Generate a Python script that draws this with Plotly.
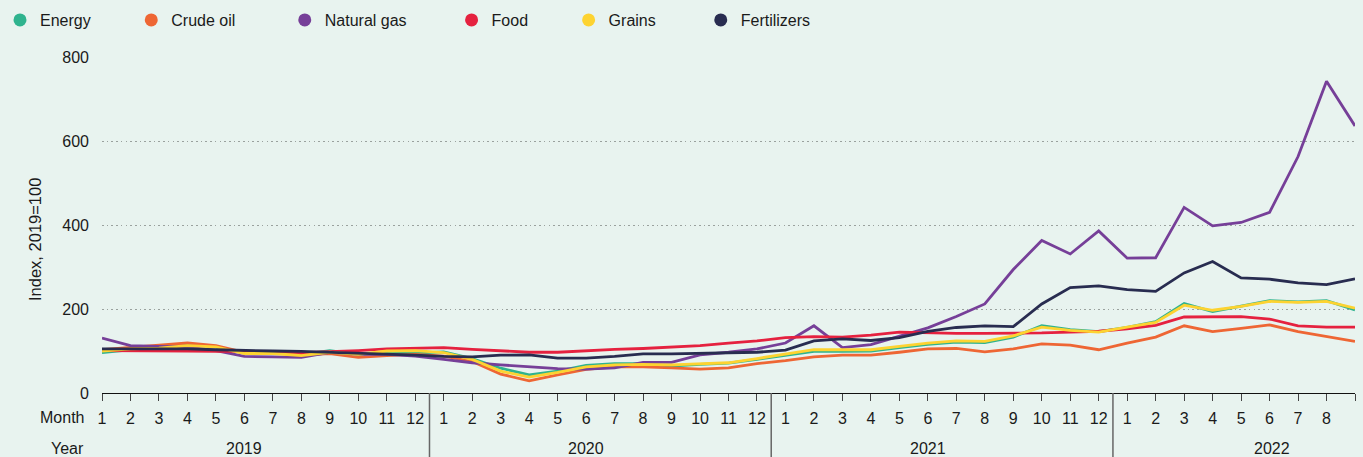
import plotly.graph_objects as go

# Months: Jan 2019 .. Sep 2022 (index 0..44)
month_labels = [str(m) for m in range(1, 13)] * 3 + [str(m) for m in range(1, 9)] + [""]
years = ["2019", "2020", "2021", "2022"]
year_label_pos = [5, 17, 29, 41.1]
year_dividers = [11.5, 23.5, 35.5]

energy = [96, 103, 110, 115, 110, 95, 96, 92, 101, 92, 97, 95,
          98, 82, 59, 43, 52, 66, 70, 70, 64, 68, 71, 80,
          90, 99, 99, 100, 108, 116, 121, 120, 133, 160, 151, 146,
          156, 170, 213, 194, 207, 220, 217, 220, 198]
crude_oil = [103, 108, 113, 119, 113, 97, 96, 90, 94, 85, 89, 92,
             88, 75, 45, 29, 43, 56, 62, 62, 60, 57, 60, 70,
             77, 86, 90, 90, 97, 105, 106, 98, 105, 117, 114, 103,
             119, 133, 160, 146, 154, 162, 146, 134, 123]
natural_gas = [131, 113, 111, 110, 101, 87, 86, 85, 97, 92, 92, 88,
               80, 72, 67, 62, 58, 57, 60, 73, 73, 91, 97, 105,
               119, 160, 108, 115, 135, 155, 182, 212, 294, 363, 331, 386,
               321, 322, 442, 398, 406, 430, 563, 742, 636]
food = [101, 101, 101, 100, 99, 99, 99, 96, 98, 101, 105, 107,
        108, 104, 100, 97, 97, 101, 104, 106, 109, 113, 119, 124,
        132, 134, 133, 138, 145, 143, 142, 142, 142, 143, 145, 147,
        153, 161, 181, 182, 182, 176, 160, 157, 157]
grains = [100, 105, 107, 113, 110, 94, 94, 89, 97, 92, 100, 101,
          96, 80, 52, 38, 49, 62, 67, 68, 67, 69, 72, 82,
          92, 103, 103, 103, 111, 119, 124, 123, 136, 157, 149, 145,
          157, 168, 209, 197, 206, 218, 216, 218, 202]
fertilizers = [105, 105, 105, 105, 103, 101, 100, 99, 97, 94, 92, 90,
               87, 86, 90, 91, 83, 83, 87, 93, 93, 94, 95, 97,
               102, 124, 129, 125, 132, 147, 156, 160, 158, 212, 251, 255,
               246, 242, 286, 313, 274, 271, 262, 258, 272]

series = [
    ("Energy", energy, "#2fb38e", 8),
    ("Crude oil", crude_oil, "#ee6634", 10),
    ("Natural gas", natural_gas, "#763f98", 9),
    ("Food", food, "#e5213f", 8),
    ("Grains", grains, "#fdd331", 9),
    ("Fertilizers", fertilizers, "#282c50", 0),
]

x_idx = list(range(len(energy)))
FONT = "Liberation Sans, Arial, sans-serif"

fig = go.Figure()
for name, vals, col, _ in series:
    fig.add_trace(go.Scatter(x=x_idx, y=vals, mode="lines", name=name,
                             line=dict(color=col, width=2.8), showlegend=False,
                             hoverinfo="skip"))
for name, vals, col, pad in series:
    fig.add_trace(go.Scatter(x=[None], y=[None], mode="markers", name=name + "\u00a0" * pad,
                             marker=dict(color=col, size=13, symbol="circle"),
                             showlegend=True))

bg = "#e8f3ef"
W, H = 1363, 457
L, R, T, B = 102, 8, 57, 64
ph = H - T - B

def py(pix):
    return (H - B - pix) / ph

def px(pix):
    return (pix - L) / (W - L - R)

annotations = [
    dict(text="Month", x=px(86), y=py(417), xref="paper", yref="paper",
         xanchor="right", yanchor="middle", showarrow=False),
    dict(text="Year", x=px(86), y=py(448), xref="paper", yref="paper",
         xanchor="right", yanchor="middle", showarrow=False),
    dict(text="Index, 2019=100", x=px(35), y=py(240), xref="paper", yref="paper",
         xanchor="center", yanchor="middle", textangle=-90, showarrow=False,
         font=dict(size=16.5)),
]
for yl, pos in zip(years, year_label_pos):
    annotations.append(dict(text=yl, x=pos, y=py(448), xref="x", yref="paper",
                            xanchor="center", yanchor="middle", showarrow=False))

shapes = [dict(type="line", xref="x", yref="paper", x0=d, x1=d, y0=0, y1=py(H),
               line=dict(color="#666666", width=1.5)) for d in year_dividers]

fig.update_layout(
    width=W, height=H,
    margin=dict(l=L, r=R, t=T, b=B),
    paper_bgcolor=bg, plot_bgcolor=bg,
    font=dict(family=FONT, size=16, color="#1a1a1a"),
    showlegend=True,
    legend=dict(orientation="h", xref="container", yref="container",
                x=-0.003, y=1 - 20 / H, xanchor="left", yanchor="middle",
                font=dict(size=16, color="#1a1a1a"), bgcolor="rgba(0,0,0,0)",
                itemclick=False),
    xaxis=dict(range=[0, 44], tickmode="array", tickvals=x_idx, ticktext=month_labels,
               ticks="outside", ticklen=7, tickcolor="#444444", tickwidth=1.3,
               showline=True, linecolor="#111111", linewidth=1.3,
               showgrid=False, zeroline=False, tickangle=0, ticklabelstandoff=4,
               tickfont=dict(size=16, color="#1a1a1a")),
    yaxis=dict(range=[0, 800], tickvals=[0, 200, 400, 600, 800],
               showgrid=True, gridcolor="#9aa19e", griddash="1.6px,3.1px", gridwidth=1.3,
               zeroline=False, showline=False, ticks="", ticklabelstandoff=12,
               tickfont=dict(size=16, color="#1a1a1a")),
    annotations=annotations,
    shapes=shapes,
)

fig.write_html(
    "out.html",
    config={"displayModeBar": False},
    post_script=("document.body.style.margin='0';"
                 "document.body.style.background='%s';"
                 "document.body.style.overflow='hidden';" % bg),
)
